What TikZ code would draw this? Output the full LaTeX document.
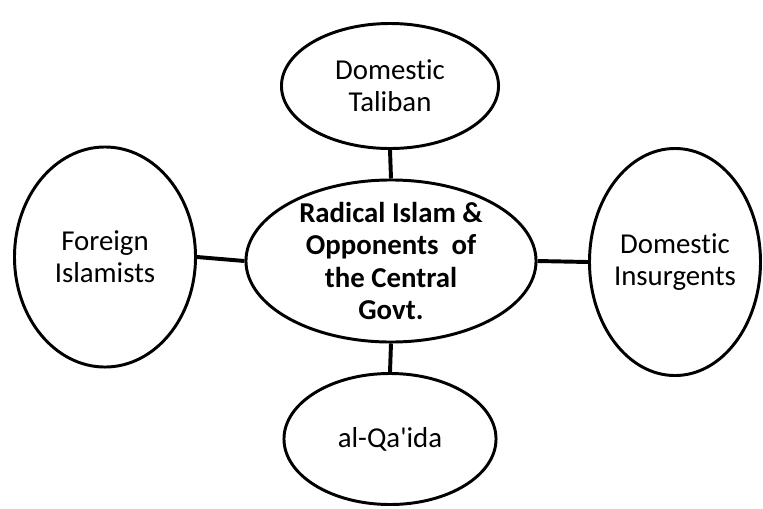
\documentclass[tikz,border=0pt]{standalone}
\usepackage{fontspec}
\setmainfont{Carlito}[Ligatures=NoCommon]
\usepackage{tikz}
\usetikzlibrary{shapes.geometric}

\begin{document}
\begin{tikzpicture}[x=0.025cm,y=-0.025cm,
  bubble/.style={ellipse, draw=black, line width=2.1pt, inner sep=0pt, align=center,
    font=\fontsize{20.5}{22.5}\selectfont},
  link/.style={line width=2.8pt}]
\useasboundingbox (0,0) rectangle (763,508);
\node[bubble, font=\fontsize{20.5}{23}\selectfont\bfseries, inner ysep=-7pt, minimum width=7.25cm, minimum height=4.05cm] (hubO) at (391,261) {Radical Islam \&\\Opponents~ of\\the Central\\Govt.};
\node[bubble, minimum width=5.425cm, minimum height=3.125cm] (talibanT) at (390,86) {Domestic\\Taliban};
\node[bubble, minimum width=5.3cm, minimum height=3.275cm] (qaidaQ) at (390,439) {al-Qa\textquotesingle ida};
\node[bubble, minimum width=4.525cm, minimum height=5.5cm] (foreignF) at (105,257) {Foreign\\Islamists};
\node[bubble, inner xsep=-4pt, minimum width=4.275cm, minimum height=5.675cm] (insurgI) at (675,262) {Domestic\\Insurgents};

% links to the hub
\draw[link] (hubO.north) -- (talibanT.south);
\draw[link] (hubO.south) -- (qaidaQ.north);
\draw[link] (hubO.west) -- (foreignF.east);
\draw[link] (hubO.east) -- (insurgI.west);
\end{tikzpicture}
\end{document}
